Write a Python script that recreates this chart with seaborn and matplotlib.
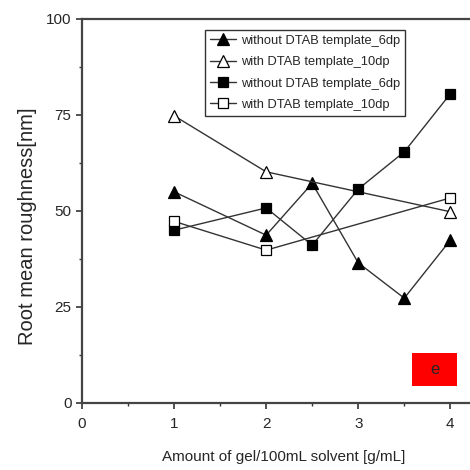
import matplotlib
matplotlib.use("Agg")
import matplotlib.pyplot as plt
from matplotlib.ticker import MultipleLocator
from matplotlib.patches import Rectangle
import seaborn as sns
import pandas as pd

# values
x_a = [1, 2, 2.5, 3, 3.5, 4]
x_b = [1, 2, 4]
tri_filled = [55, 43.7, 57.2, 36.5, 27.3, 42.4]
tri_open = [74.8, 60.2, 49.8]
sq_filled = [45.0, 50.8, 41.1, 55.7, 65.4, 80.5]
sq_open = [47.3, 39.8, 53.4]
labels = ["without DTAB template_6dp", "with DTAB template_10dp",
          "without DTAB template_6dp", "with DTAB template_10dp"]

sns.set_style("ticks")
plt.rcParams['font.family'] = ['Liberation Sans', 'DejaVu Sans']

fig = plt.figure(figsize=(4.7, 4.7), dpi=100)
ax = fig.add_axes([0.1745, 0.1426, 0.86, 0.817])

series = [
    (x_a, tri_filled, "^", "black", 9),
    (x_b, tri_open, "^", "white", 9),
    (x_a, sq_filled, "s", "black", 6.5),
    (x_b, sq_open, "s", "white", 6.5),
]
for (xs, ys, mk, fc, ms), lab in zip(series, labels):
    df = pd.DataFrame({"x": xs, "y": ys})
    sns.lineplot(data=df, x="x", y="y", ax=ax, color="#333333", lw=1.0,
                 marker=mk, markersize=ms, markerfacecolor=fc,
                 markeredgecolor="black", markeredgewidth=0.9, label=lab)

ax.set_xlim(0, 4.39)
ax.set_ylim(0, 100)
ax.xaxis.set_major_locator(MultipleLocator(1))
ax.xaxis.set_minor_locator(MultipleLocator(0.5))
ax.yaxis.set_major_locator(MultipleLocator(25))
ax.yaxis.set_minor_locator(MultipleLocator(12.5))
ax.tick_params(which="major", length=4, width=1.2, labelsize=11, color="#333333")
ax.tick_params(axis="x", which="major", pad=6)
ax.tick_params(which="minor", length=2, width=1.0, color="#333333")

for side in ["left", "bottom", "top"]:
    ax.spines[side].set_linewidth(1.6)
    ax.spines[side].set_color("#444444")
ax.spines["right"].set_visible(False)

ax.set_xlabel("Amount of gel/100mL solvent [g/mL]", fontsize=11, labelpad=14)
ax.set_ylabel("Root mean roughness[nm]", fontsize=14.5)
ax.yaxis.set_label_coords(-0.112, 0.46)

leg = ax.legend(loc="upper left", bbox_to_anchor=(0.305, 0.972), fontsize=9.3,
                frameon=True, fancybox=False, edgecolor="black",
                handlelength=2.0, handletextpad=0.35, borderpad=0.4,
                labelspacing=0.72, borderaxespad=0)
leg.get_frame().set_linewidth(1.0)

# red panel tag
ax.add_patch(Rectangle((3.587, 4.5), 0.49, 8.6, transform=ax.transData,
                       facecolor="red", edgecolor="none", zorder=3))
ax.text(3.83, 8.8, "e", fontsize=12, ha="center", va="center", zorder=4)

fig.savefig("out.png", dpi=100)
